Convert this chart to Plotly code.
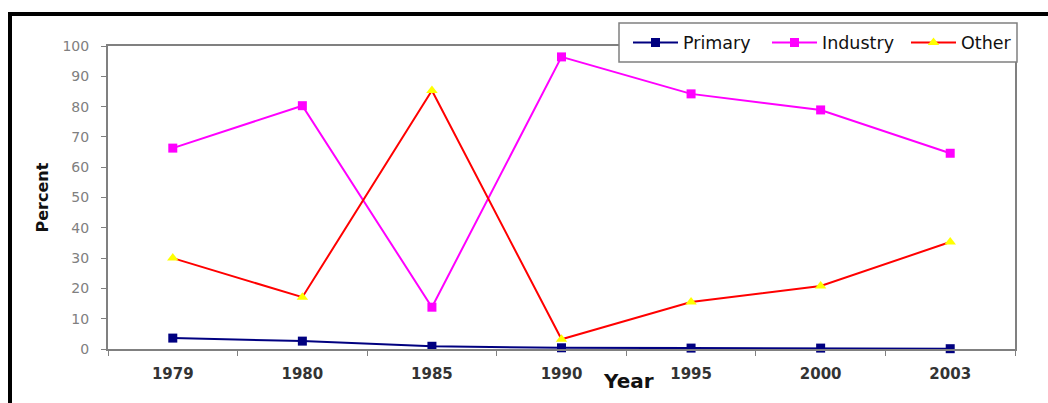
import plotly.graph_objects as go

# Share of total by sector, in percent
years = ["1979", "1980", "1985", "1990", "1995", "2000", "2003"]
primary = [3.6, 2.6, 0.9, 0.4, 0.3, 0.3, 0.1]
industry = [66.3, 80.3, 13.8, 96.4, 84.2, 78.9, 64.6]
other = [30.0, 17.1, 85.3, 3.2, 15.5, 20.8, 35.3]

W, H = 1048, 403
L, R, T, B = 108, 1015, 46, 349  # plot area in pixels


def px_x(p):
    return (p - L) / (R - L)


def px_y(p):
    return (B - p) / (B - T)


fig = go.Figure()
fig.add_trace(go.Scatter(
    x=years, y=primary, name="Primary", mode="lines+markers",
    line=dict(color="#000080", width=2),
    marker=dict(symbol="square", size=9, color="#000080"),
    cliponaxis=False,
))
fig.add_trace(go.Scatter(
    x=years, y=industry, name="Industry", mode="lines+markers",
    line=dict(color="#FF00FF", width=2),
    marker=dict(symbol="square", size=9, color="#FF00FF"),
    cliponaxis=False,
))
fig.add_trace(go.Scatter(
    x=years, y=other, name="Other", mode="lines+markers",
    line=dict(color="#FF0000", width=2),
    marker=dict(symbol="triangle-up", size=10, color="#FFFF00"),
    cliponaxis=False,
))

axis_common = dict(
    showgrid=False, zeroline=False,
    showline=True, linecolor="#808080", linewidth=2, mirror=True,
    ticks="outside", ticklen=5, tickcolor="#808080", tickwidth=1,
)

fig.update_xaxes(
    type="category", range=[-0.5, len(years) - 0.5],
    tickson="boundaries", ticklabelstandoff=10,
    tickfont=dict(family="DejaVu Sans", size=15, color="#333333", weight="bold"),
    **axis_common,
)
fig.update_yaxes(
    range=[0, 100], dtick=10, ticklabelstandoff=9,
    tickfont=dict(family="DejaVu Sans", size=14, color="#808080"),
    **axis_common,
)

fig.update_layout(
    width=W, height=H,
    margin=dict(l=L, r=W - R, t=T, b=H - B, pad=0, autoexpand=False),
    paper_bgcolor="white", plot_bgcolor="white",
    showlegend=True,
    legend=dict(
        orientation="h",
        x=px_x(628), y=px_y(42.5), xanchor="left", yanchor="middle",
        bgcolor="rgba(0,0,0,0)", borderwidth=0,
        font=dict(family="DejaVu Sans", size=17.5, color="#111111"),
        itemwidth=45, entrywidth=79,
    ),
    annotations=[
        dict(text="<b>Year</b>", x=px_x(628), y=px_y(381), xref="paper", yref="paper",
             showarrow=False, xanchor="center", yanchor="middle",
             font=dict(family="DejaVu Sans", size=20, color="#111111")),
        dict(text="<b>Percent</b>", x=px_x(42), y=0.5, xref="paper", yref="paper",
             showarrow=False, textangle=-90, xanchor="center", yanchor="middle",
             font=dict(family="DejaVu Sans", size=16, color="#111111")),
    ],
    shapes=[
        # legend frame
        dict(type="rect", xref="paper", yref="paper", layer="above",
             x0=px_x(619), x1=px_x(1017), y0=px_y(62), y1=px_y(23),
             fillcolor="white", line=dict(color="#808080", width=1.5)),
        # outer frame edges
        dict(type="line", xref="paper", yref="paper",
             x0=px_x(8), x1=px_x(1060), y0=px_y(14), y1=px_y(14),
             line=dict(color="black", width=4)),
        dict(type="line", xref="paper", yref="paper",
             x0=px_x(10), x1=px_x(10), y0=px_y(12), y1=px_y(420),
             line=dict(color="black", width=4)),
    ],
)

fig.write_html("out.html")
